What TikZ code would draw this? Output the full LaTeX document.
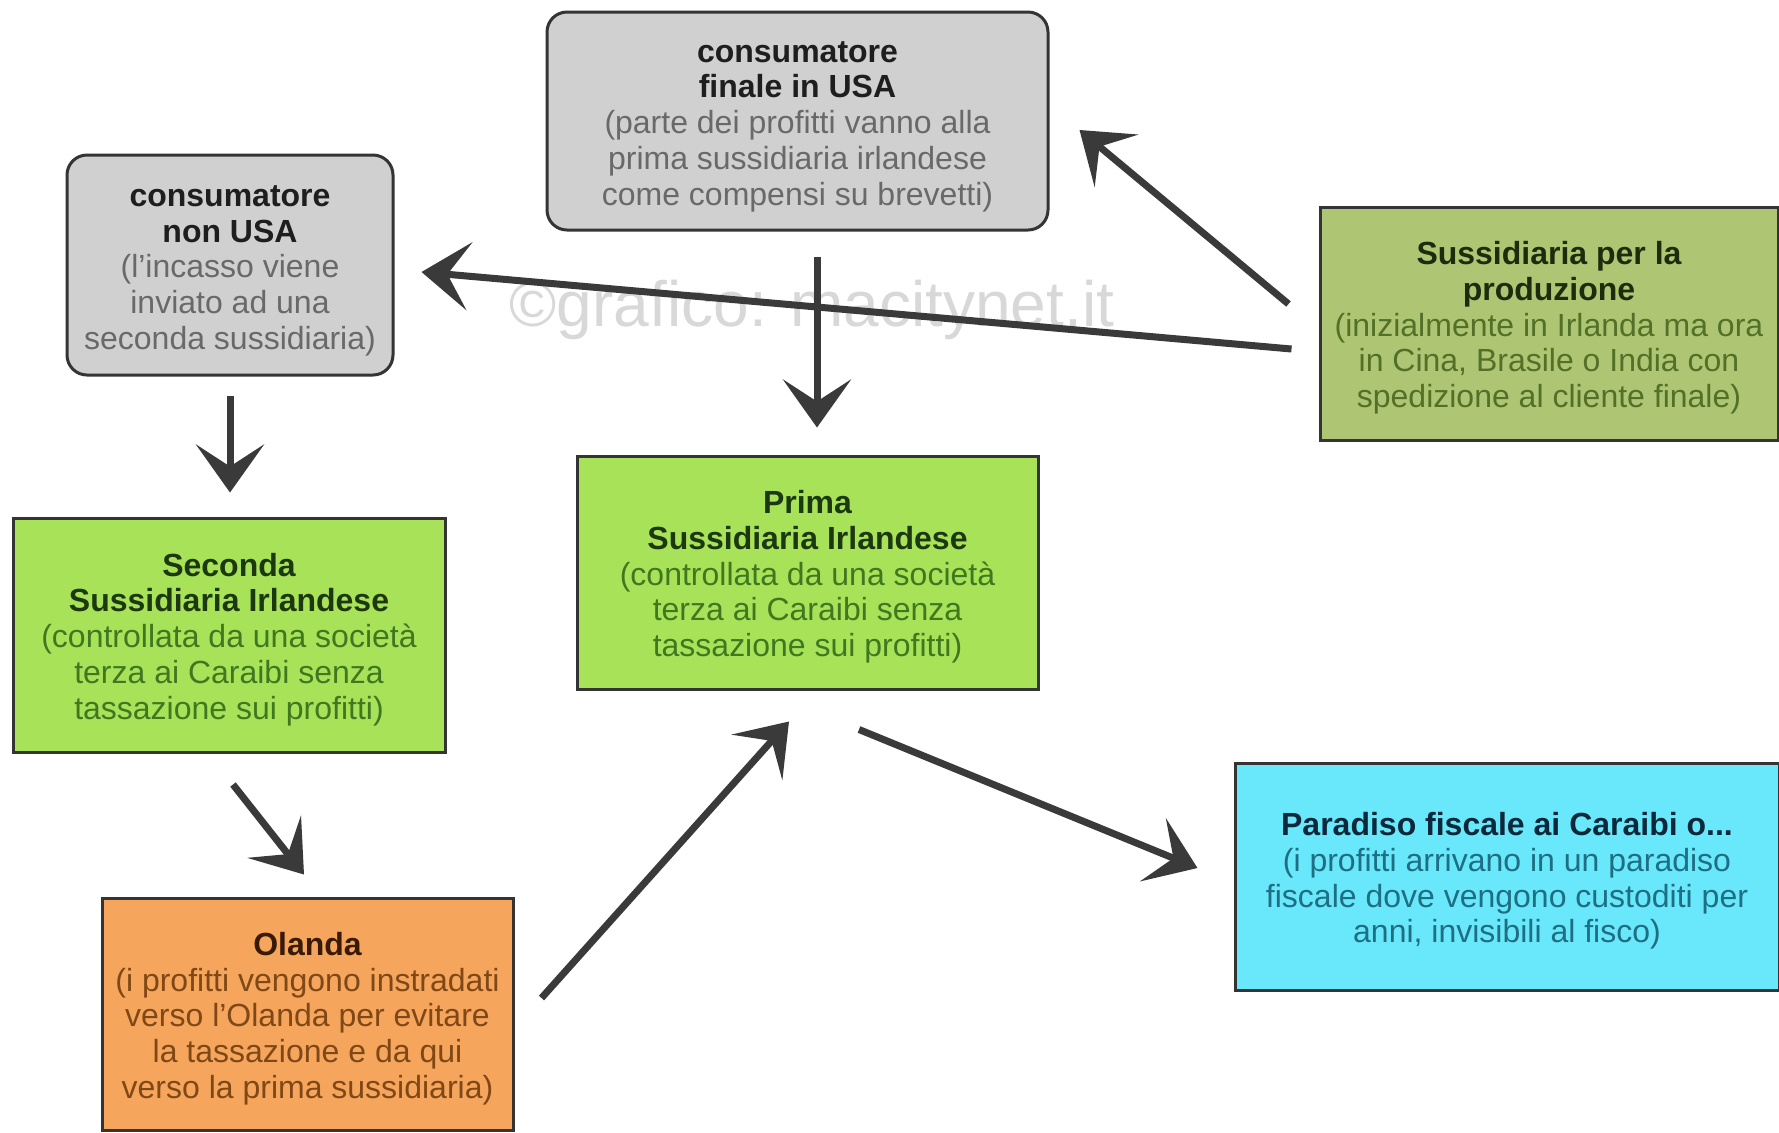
\documentclass[tikz,border=0pt]{standalone}
\usepackage{fontspec}
\setmainfont{Liberation Sans}
\usetikzlibrary{arrows.meta,calc}
\definecolor{grayfill}{RGB}{208,208,208}
\definecolor{grayttl}{RGB}{30,30,30}
\definecolor{graytxt}{RGB}{105,105,105}
\definecolor{greenfill}{RGB}{168,226,88}
\definecolor{greenttl}{RGB}{28,56,16}
\definecolor{greentxt}{RGB}{64,120,32}
\definecolor{prodfill}{RGB}{174,198,116}
\definecolor{prodttl}{RGB}{30,44,14}
\definecolor{prodtxt}{RGB}{82,112,40}
\definecolor{orangefill}{RGB}{245,166,92}
\definecolor{orangettl}{RGB}{56,26,6}
\definecolor{orangetxt}{RGB}{128,72,22}
\definecolor{cyanfill}{RGB}{104,232,250}
\definecolor{cyanttl}{RGB}{12,40,58}
\definecolor{cyantxt}{RGB}{30,110,132}
\definecolor{edgec}{RGB}{52,52,52}
\definecolor{arrowc}{RGB}{58,58,58}
\definecolor{wmark}{RGB}{216,216,216}
\newcommand\hdline[2]{\textcolor{#1}{\bfseries #2}}
\newcommand\highstrut{\rule{0pt}{16pt}}
\begin{document}
\begin{tikzpicture}[x=0.5pt,y=-0.5pt,
  box/.style={draw=edgec,line width=1.5pt,align=center,inner sep=0pt,
    font=\fontsize{16}{17.85}\selectfont},
  graybox/.style={box,fill=grayfill,rounded corners=10pt,text=graytxt},
  greenbox/.style={box,fill=greenfill,text=greentxt},
  prodbox/.style={box,fill=prodfill,text=prodtxt},
  orangebox/.style={box,fill=orangefill,text=orangetxt},
  cyanbox/.style={box,fill=cyanfill,text=cyantxt},
  arr/.style={draw=arrowc,line width=3.5pt,
    -{Stealth[length=24pt,width=34pt,inset=11pt]}}]
\useasboundingbox[fill=white] (0,0) rectangle (1779,1132);

\node[text=wmark,font=\fontsize{32}{34}\selectfont] (wm) at (812,310) {©grafico: macitynet.it};

\node[graybox,minimum width=250.5pt,minimum height=109pt] (usa) at (797.5,121)
  {\highstrut\hdline{grayttl}{consumatore}\\\hdline{grayttl}{finale in USA}\\
   (parte dei profitti vanno alla\\prima sussidiaria irlandese\\come compensi su brevetti)};

\node[graybox,minimum width=163pt,minimum height=110pt] (nonusa) at (230,265)
  {\highstrut\hdline{grayttl}{consumatore}\\\hdline{grayttl}{non USA}\\
   (l'incasso viene\\inviato ad una\\seconda sussidiaria)};

\node[prodbox,minimum width=229pt,minimum height=116.5pt] (prod) at (1549,323.5)
  {\highstrut\hdline{prodttl}{Sussidiaria per la}\\\hdline{prodttl}{produzione}\\
   (inizialmente in Irlanda ma ora\\in Cina, Brasile o India con\\spedizione al cliente finale)};

\node[greenbox,minimum width=216pt,minimum height=117pt] (seconda) at (229,635)
  {\highstrut\hdline{greenttl}{Seconda}\\\hdline{greenttl}{Sussidiaria Irlandese}\\
   (controllata da una società\\terza ai Caraibi senza\\tassazione sui profitti)};

\node[greenbox,minimum width=230.5pt,minimum height=116.5pt] (prima) at (807.5,572.5)
  {\highstrut\hdline{greenttl}{Prima}\\\hdline{greenttl}{Sussidiaria Irlandese}\\
   (controllata da una società\\terza ai Caraibi senza\\tassazione sui profitti)};

\node[orangebox,minimum width=205.5pt,minimum height=116pt] (olanda) at (307.5,1014)
  {\highstrut\hdline{orangettl}{Olanda}\\
   (i profitti vengono instradati\\verso l'Olanda per evitare\\la tassazione e da qui\\verso la prima sussidiaria)};

\node[cyanbox,minimum width=272pt,minimum height=113.5pt] (paradiso) at (1507,876.5)
  {\highstrut\hdline{cyanttl}{Paradiso fiscale ai Caraibi o...}\\
   (i profitti arrivano in un paradiso\\fiscale dove vengono custoditi per\\anni, invisibili al fisco)};

\draw[arr] ($(prod.west)+(-30,-19.5)$) -- ($(usa.east)+(30,9)$);
\draw[arr] ($(prod.west)+(-27,25.5)$) -- ($(nonusa.east)+(27,7)$);
\draw[arr] ($(usa.south)+(19.5,25)$) -- ($(prima.north)+(9.5,-27)$);
\draw[arr] ($(nonusa.south)+(0,19)$) -- ($(seconda.north)+(1,-24)$);
\draw[arr] ($(seconda.south)+(4,31)$) -- ($(olanda.north)+(-3.5,-22)$);
\draw[arr] ($(olanda.east)+(27,-16)$) -- ($(prima.south)+(-18.5,31)$);
\draw[arr] ($(prima.south)+(51.5,39)$) -- ($(paradiso.west)+(-36,-8.5)$);
\end{tikzpicture}
\end{document}
